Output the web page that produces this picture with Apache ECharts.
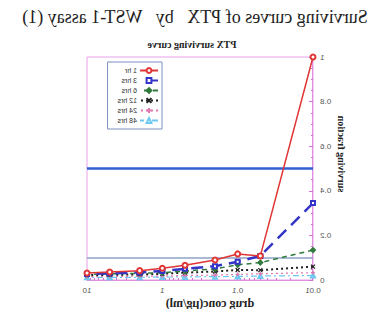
<!DOCTYPE html>
<html><head><meta charset="utf-8">
<script src="https://cdn.jsdelivr.net/npm/echarts@6/dist/echarts.min.js"></script>
<style>html,body{margin:0;padding:0;background:#fff}#chart{width:390px;height:309px;transform:scaleX(-1)}</style>
</head><body><div id="chart"></div>
<script>
const concs = [0.01, 0.05, 0.1, 0.2, 0.5, 1, 2, 5, 10];
const hr1  = [1.0, 0.108, 0.117, 0.09, 0.066, 0.053, 0.042, 0.036, 0.031];
const hr3  = [0.345, 0.108, 0.082, 0.062, 0.05, 0.04, 0.034, 0.03, 0.027];
const hr6  = [0.134, 0.078, 0.068, 0.05, 0.04, 0.033, 0.03, 0.028, 0.025];
const hr12 = [0.06, 0.044, 0.045, 0.038, 0.033, 0.028, 0.025, 0.023, 0.022];
const hr24 = [0.033, 0.028, 0.025, 0.022, 0.02, 0.018, 0.017, 0.016, 0.015];
const hr48 = [0.02, 0.018, 0.016, 0.015, 0.014, 0.013, 0.012, 0.012, 0.012];
const refLines = [0.5, 0.1];
const seriesNames = ['1 hr', '3 hrs', '6 hrs', '12 hrs', '24 hrs', '48 hrs'];
const xTicks = ['0.01', '0.1', '1', '10'];

const chart = echarts.init(document.getElementById('chart'), null, {renderer: 'svg'});
const pts = v => concs.map((c, i) => [c, v[i]]);
const xPath = 'path://M0,0L10,10M10,0L0,10';
const plusPath = 'path://M5,0L5,10M0,5L10,5';
const styles = [
  {color:'#e03535', type:'solid', width:1.5, symbol:'emptyCircle', size:5},
  {color:'#3434c8', type:[12,7], width:2.5, symbol:'emptyRect', size:4},
  {color:'#2f7a3c', type:[5,4], width:1.5, symbol:'diamond', size:5},
  {color:'#222222', type:[2,3], width:2, symbol:xPath, size:4},
  {color:'#e078b0', type:[2,3], width:1.2, symbol:plusPath, size:4},
  {color:'#6cc8f0', type:[6,3,2,3], width:1.2, symbol:'emptyTriangle', size:4}
];
const data = [hr1, hr3, hr6, hr12, hr24, hr48];
const series = data.map((d, i) => ({
  name: seriesNames[i], type: 'line', data: pts(d),
  symbol: styles[i].symbol, symbolSize: styles[i].size,
  itemStyle: {color: styles[i].color, borderColor: styles[i].color, borderWidth: 1.2},
  lineStyle: {color: styles[i].color, type: styles[i].type, width: styles[i].width},
  z: 10 - i
}));
series.push({
  name: 'ref', type: 'line', data: [], silent: true,
  markLine: {
    silent: true, symbol: 'none', label: {show: false},
    data: [
      {yAxis: refLines[0], lineStyle: {color: '#2f5fd0', width: 2.5, type: 'solid'}},
      {yAxis: refLines[1], lineStyle: {color: '#8ea3c4', width: 1.5, type: 'solid'}}
    ]
  }
});

chart.setOption({
  animation: false,
  title: [
    {text: 'Surviving curves of PTX   by   WST-1 assay (1)', left: 'center', top: 3,
     textStyle: {fontFamily: 'Liberation Serif', fontSize: 18, fontWeight: 'normal', color: '#222'}},
    {text: 'PTX surviving curve', left: 193, top: 34, textAlign: 'center',
     textStyle: {fontFamily: 'Liberation Serif', fontSize: 10, fontWeight: 'bold', color: '#222'}}
  ],
  grid: {left: 77, right: 87, top: 57, bottom: 29, show: true, borderColor: '#e8a0e8', borderWidth: 1},
  legend: {
    data: seriesNames, orient: 'vertical', left: 228, top: 62,
    itemWidth: 18, itemHeight: 6, itemGap: 3,
    borderColor: '#7d8fbf', borderWidth: 1, padding: [5, 10, 5, 3], backgroundColor: '#fff',
    textStyle: {fontSize: 7, color: '#333', fontFamily: 'Liberation Sans', padding: [0, 0, 0, -2]}
  },
  xAxis: {
    type: 'log', logBase: 10, min: 0.01, max: 10,
    axisLine: {lineStyle: {color: '#e090e0'}},
    axisTick: {inside: true, length: 4, lineStyle: {color: '#d070d0'}},
    minorTick: {show: true, splitNumber: 9, length: 2, lineStyle: {color: '#d070d0'}},
    splitLine: {show: false},
    axisLabel: {fontSize: 8, color: '#555', margin: 6,
      formatter: v => { const s = xTicks.find(t => Math.abs(parseFloat(t) - v) < 1e-9 * Math.max(1, v)); return s || ''; }}
  },
  yAxis: {
    type: 'value', min: 0, max: 1, interval: 0.2,
    axisLine: {show: true, lineStyle: {color: '#e090e0'}},
    axisTick: {inside: true, length: 4, lineStyle: {color: '#d070d0'}},
    minorTick: {show: true, splitNumber: 4, length: 2, lineStyle: {color: '#d070d0'}},
    splitLine: {show: false},
    axisLabel: {fontSize: 8, color: '#555', margin: 7}
  },
  graphic: [
    {type: 'text', x: 49, y: 154, rotation: Math.PI / 2,
     style: {text: 'surviving fraction', x: 0, y: 0, align: 'center', verticalAlign: 'middle',
             fontFamily: 'Liberation Serif', fontSize: 10, fontWeight: 'bold', fill: '#222'}},
    {type: 'text', x: 180, y: 303,
     style: {text: 'drug conc(μg/ml)', x: 0, y: 0, align: 'center', verticalAlign: 'middle',
             fontFamily: 'Liberation Serif', fontSize: 12, fontWeight: 'bold', fill: '#222'}}
  ],
  series: series
});
</script></body></html>
